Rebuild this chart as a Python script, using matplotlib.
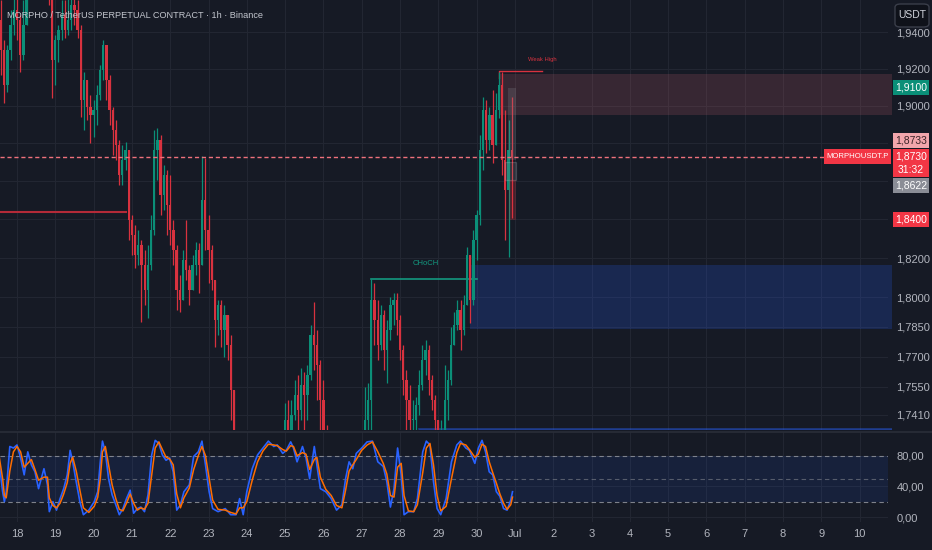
import numpy as np
import matplotlib
matplotlib.use('Agg')
import matplotlib.pyplot as plt
from matplotlib.patches import Rectangle, FancyBboxPatch
from matplotlib.lines import Line2D
from matplotlib.transforms import Bbox, TransformedBbox
from matplotlib.ticker import FixedLocator, FixedFormatter, NullLocator

plt.rcParams['font.family'] = ['Liberation Sans', 'DejaVu Sans']

# ---------------- data ----------------
title = "MORPHO / TetherUS PERPETUAL CONTRACT · 1h · Binance"
day_labels = ['18', '19', '20', '21', '22', '23', '24', '25', '26', '27', '28', '29', '30',
              'Jul', '2', '3', '4', '5', '6', '7', '8', '9', '10']
price_ticks = [1.94, 1.92, 1.90, 1.88, 1.86, 1.84, 1.82, 1.80, 1.785, 1.77, 1.755, 1.741]
price_tick_labels = ['1,9400', '1,9200', '1,9000', '', '', '', '1,8200', '1,8000',
                     '1,7850', '1,7700', '1,7550', '1,7410']

# 2-hour candles, hours from Jun 18 00:00
candle_first_hour = -10
candle_step = 2
first_open = 1.9468
close = [1.9303, 1.9113, 1.9303, 1.9441, 1.9523, 1.9468, 1.9276, 1.9441, 1.9690, 1.9801,
         1.9886, 1.9830, 1.9773, 1.9745, 1.9718, 1.9634, 1.9249, 1.9358, 1.9413, 1.9496,
         1.9413, 1.9468, 1.9551, 1.9523, 1.9413, 1.9032, 1.9140, 1.8995, 1.8952, 1.8978,
         1.9059, 1.9195, 1.9331, 1.9140, 1.8978, 1.8871, 1.8791, 1.8633, 1.8712, 1.8765,
         1.8397, 1.8319, 1.8216, 1.8267, 1.8164, 1.8036, 1.8164, 1.8345, 1.8765, 1.8818,
         1.8528, 1.8633, 1.8475, 1.8345, 1.8242, 1.8036, 1.7985, 1.8190, 1.8139, 1.8036,
         1.8164, 1.8242, 1.8164, 1.8501, 1.8345, 1.8242, 1.8087, 1.7884, 1.7960, 1.7834,
         1.7910, 1.7758, 1.7534, 1.7287, 1.7141, 1.7045, 1.7093, 1.7020, 1.7069, 1.7141,
         1.7093, 1.7045, 1.7117, 1.7166, 1.7117, 1.7190, 1.7238, 1.7214, 1.7287, 1.7385,
         1.7336, 1.7411, 1.7509, 1.7435, 1.7558, 1.7509, 1.7608, 1.7808, 1.7758, 1.7658,
         1.7484, 1.7336, 1.7238, 1.7166, 1.7141, 1.7190, 1.7117, 1.7093, 1.7141, 1.7190,
         1.7166, 1.7214, 1.7238, 1.7263, 1.7385, 1.7484, 1.7985, 1.7884, 1.7758, 1.7910,
         1.7733, 1.7834, 1.7960, 1.7985, 1.7884, 1.7733, 1.7583, 1.7484, 1.7385, 1.7385,
         1.7460, 1.7558, 1.7683, 1.7733, 1.7583, 1.7484, 1.7385, 1.7287, 1.7312, 1.7484,
         1.7583, 1.7758, 1.7859, 1.7935, 1.7834, 1.7960, 1.8216, 1.7985, 1.8293, 1.8423,
         1.8765, 1.8978, 1.8818, 1.8952, 1.8791, 1.8978, 1.9113, 1.8712, 1.8554, 1.8765,
         1.8730]
high = [1.9578, 1.9358, 1.9331, 1.9523, 1.9634, 1.9634, 1.9496, 1.9578, 1.9801, 1.9914,
        1.9970, 1.9942, 1.9886, 1.9858, 1.9830, 1.9773, 1.9634, 1.9386, 1.9441, 1.9578,
        1.9578, 1.9606, 1.9662, 1.9690, 1.9578, 1.9441, 1.9184, 1.9140, 1.9059, 1.9032,
        1.9113, 1.9222, 1.9358, 1.9331, 1.9167, 1.8995, 1.8925, 1.8818, 1.8791, 1.8807,
        1.8765, 1.8423, 1.8371, 1.8345, 1.8293, 1.8242, 1.8267, 1.8423, 1.8871, 1.8882,
        1.8845, 1.8686, 1.8659, 1.8633, 1.8397, 1.8267, 1.8113, 1.8242, 1.8397, 1.8164,
        1.8216, 1.8283, 1.8278, 1.8733, 1.8722, 1.8423, 1.8267, 1.8087, 1.7985, 1.7985,
        1.7960, 1.7884, 1.7808, 1.7484, 1.7287, 1.7190, 1.7166, 1.7141, 1.7166, 1.7238,
        1.7214, 1.7141, 1.7214, 1.7263, 1.7238, 1.7287, 1.7297, 1.7287, 1.7312, 1.7469,
        1.7484, 1.7484, 1.7583, 1.7608, 1.7643, 1.7623, 1.7658, 1.7859, 1.7975, 1.7834,
        1.7683, 1.7583, 1.7360, 1.7287, 1.7238, 1.7263, 1.7214, 1.7190, 1.7238, 1.7277,
        1.7263, 1.7287, 1.7297, 1.7312, 1.7548, 1.7568, 1.8092, 1.8072, 1.7985, 1.7960,
        1.7935, 1.7884, 1.8001, 1.8021, 1.8021, 1.7910, 1.7758, 1.7633, 1.7558, 1.7484,
        1.7499, 1.7633, 1.7758, 1.7783, 1.7758, 1.7608, 1.7509, 1.7360, 1.7385, 1.7658,
        1.7633, 1.7849, 1.7925, 1.7985, 1.7985, 1.8011, 1.8257, 1.8216, 1.8345, 1.8449,
        1.8845, 1.9049, 1.9032, 1.8995, 1.9086, 1.9070, 1.9184, 1.9184, 1.8978, 1.8925,
        1.9049]
low = [1.9167, 1.9016, 1.9075, 1.9249, 1.9386, 1.9358, 1.9184, 1.9249, 1.9523, 1.9662,
       1.9745, 1.9718, 1.9645, 1.9623, 1.9606, 1.9551, 1.9043, 1.9113, 1.9238, 1.9358,
       1.9369, 1.9386, 1.9413, 1.9441, 1.9369, 1.8941, 1.8871, 1.8925, 1.8802, 1.8834,
       1.8898, 1.9032, 1.9140, 1.9032, 1.8898, 1.8738, 1.8712, 1.8580, 1.8580, 1.8659,
       1.8293, 1.8216, 1.8149, 1.8164, 1.7874, 1.7960, 1.7894, 1.8139, 1.8319, 1.8606,
       1.8423, 1.8449, 1.8319, 1.8267, 1.8164, 1.7935, 1.7925, 1.7985, 1.8087, 1.7960,
       1.8036, 1.8113, 1.8021, 1.8164, 1.8242, 1.8072, 1.8036, 1.7748, 1.7808, 1.7748,
       1.7698, 1.7683, 1.7385, 1.7190, 1.7045, 1.6972, 1.6996, 1.6948, 1.6996, 1.7045,
       1.7020, 1.6972, 1.7020, 1.7069, 1.7045, 1.7093, 1.7141, 1.7117, 1.7141, 1.7238,
       1.7263, 1.7287, 1.7385, 1.7336, 1.7385, 1.7336, 1.7385, 1.7583, 1.7633, 1.7484,
       1.7336, 1.7238, 1.7141, 1.7069, 1.7045, 1.7093, 1.7020, 1.6996, 1.7045, 1.7093,
       1.7069, 1.7117, 1.7141, 1.7166, 1.7238, 1.7287, 1.7336, 1.7758, 1.7683, 1.7733,
       1.7633, 1.7568, 1.7783, 1.7859, 1.7808, 1.7683, 1.7509, 1.7336, 1.7326, 1.7287,
       1.7326, 1.7411, 1.7534, 1.7608, 1.7509, 1.7435, 1.7326, 1.7190, 1.7214, 1.7287,
       1.7385, 1.7558, 1.7758, 1.7834, 1.7733, 1.7808, 1.7985, 1.7869, 1.7960, 1.8190,
       1.8371, 1.8659, 1.8749, 1.8765, 1.8696, 1.8791, 1.8936, 1.8633, 1.8293, 1.8206,
       1.8407]

# Stochastic RSI (hours from Jun 18 00:00)
stoch_hours = [-11.25, -9, -7.9, -6.75, -4.5, -2.25, 0, 2.25, 4.5, 6.75,
               9, 11.25, 13.5, 16.9, 19.1, 20.25, 22.5, 24.75, 27, 29.25,
               31.5, 33.3, 34.9, 37.1, 39.4, 41.6, 45, 48.4, 50.6, 52.2,
               53.55, 55.35, 57.4, 59.6, 61.9, 64.1, 66.4, 68.6, 70.9, 73.1,
               75.4, 77.6, 79.9, 82.1, 84.4, 86.6, 88.9, 91.1, 93.4, 95.6,
               97.9, 100.1, 102.4, 104.6, 108, 110.7, 113.6, 115.9, 118.1, 120.4,
               122.6, 126, 130.5, 133.9, 137.25, 139.5, 141.75, 144, 147.4, 150.75,
               154.1, 157.5, 160.9, 163.1, 166.5, 168.75, 171.5, 173.25, 175.5, 178.9,
               181.1, 183.4, 186.3, 187.9, 190.1, 193.5, 196.9, 200.25, 203.6, 205.9,
               208.1, 210.4, 212.6, 216, 219.4, 222.75, 226.1, 229.5, 231.75, 234,
               236.25, 238.5, 240.75, 242.55, 245.25, 248.6, 250.9, 254.25, 256.5, 258.75,
               261, 263.25, 265.5, 268.9, 272.25, 275.6, 277.9, 281.25, 283.5, 286.9,
               289.1, 291.4, 293.6, 295.9, 298.1, 300.4, 302.6, 304.9, 307.1, 309.4,
               310.5]
stoch_k = [72, 33, 20, 33, 92, 90, 94, 77, 55, 85, 68, 59, 37, 63, 42, 7, 20, 9, 24, 37,
           55, 87, 72, 46, 20, 3, 9, 20, 33, 72, 99, 85, 50, 29, 16, 3, 11, 24, 35, 5,
           11, 13, 7, 29, 81, 100, 96, 81, 74, 77, 59, 9, 16, 33, 42, 79, 85, 99, 68, 33,
           11, 7, 11, 3, 3, 24, 3, 33, 63, 81, 90, 99, 92, 94, 83, 87, 98, 90, 72, 92,
           77, 50, 92, 68, 37, 33, 24, 9, 16, 50, 72, 63, 83, 90, 98, 99, 72, 66, 46, 13,
           37, 90, 55, 3, 7, 7, 24, 85, 99, 94, 46, 11, 3, 24, 72, 94, 99, 90, 87, 70,
           90, 100, 85, 59, 55, 33, 27, 11, 9, 22, 33]
stoch_d = [80, 50, 28, 25, 60, 85, 92, 85, 65, 70, 75, 62, 48, 52, 52, 25, 15, 12, 18, 30,
           45, 70, 78, 60, 35, 12, 6, 14, 26, 50, 85, 92, 68, 42, 24, 10, 8, 18, 30, 18,
           9, 12, 10, 18, 55, 90, 98, 88, 78, 76, 68, 30, 12, 25, 38, 62, 80, 92, 80, 50,
           22, 10, 9, 6, 4, 12, 12, 20, 48, 72, 86, 95, 94, 93, 88, 86, 93, 92, 80, 84,
           82, 62, 75, 78, 52, 36, 28, 15, 12, 35, 60, 68, 75, 87, 94, 98, 85, 70, 56, 28,
           26, 65, 70, 28, 8, 7, 16, 58, 90, 96, 68, 28, 8, 14, 50, 84, 96, 94, 88, 78,
           82, 95, 92, 72, 58, 44, 30, 18, 10, 16, 26]
stoch_ticks = [0, 40, 80]
stoch_tick_labels = ['0,00', '40,00', '80,00']

# zones / structure (price levels, hours)
supply_zone = (302, 1.9174, 1.8952)      # start hour, top, bottom
demand_zone = (284, 1.8164, 1.7839)
lower_zone = (252, 1.7341, 1.6900)
choch_level, choch_start, choch_end = 1.8092, 222, 288
weak_high_level, weak_high_start, weak_high_end = 1.9189, 302, 329
old_level, old_level_end = 1.8439, 68
last_price = 1.8730

# ---------------- style ----------------
BG = '#161a25'
GRID = '#222632'
TXT = '#b2b5be'
GREEN = '#0b8f78'
RED = '#d8323f'
W, H = 932, 550
PX_PER_H = 38.3 / 24.0


def fx(px):
    return px / W


def fy(py):
    return 1 - py / H


fig = plt.figure(figsize=(W / 100, H / 100), dpi=100, facecolor=BG)
ax = fig.add_axes([0, fy(430), fx(888), 430 / H])
ax2 = fig.add_axes([0, fy(522), fx(888), 90 / H])
h_left = -17 / PX_PER_H
h_right = (888 - 17) / PX_PER_H
zone_right = (892 - 17) / PX_PER_H
day_ticks = [24 * k for k in range(len(day_labels))]
main_clip = TransformedBbox(Bbox([[0, fy(430)], [fx(892), 1]]), fig.transFigure)

for a in (ax, ax2):
    a.set_facecolor(BG)
    for s in a.spines.values():
        s.set_visible(False)
    a.set_xlim(h_left, h_right)
    a.xaxis.set_major_locator(FixedLocator(day_ticks))
    a.grid(True, color=GRID, lw=0.8, zorder=0)
    a.set_axisbelow(True)
    a.yaxis.tick_right()
    a.tick_params(length=0, colors=TXT, labelsize=8)

# main price axis (log)
ax.set_yscale('log')
ax.set_ylim(1.7336, 1.9578)
ax.yaxis.set_major_locator(FixedLocator(price_ticks))
ax.yaxis.set_major_formatter(FixedFormatter(price_tick_labels))
ax.yaxis.set_minor_locator(NullLocator())
ax.tick_params(axis='y', pad=6)
ax.tick_params(axis='x', labelbottom=False)

# zones
for (h0, top, bot), col, al in [(supply_zone, '#c0606c', 0.2),
                                (demand_zone, '#2962ff', 0.2),
                                (lower_zone, '#2962ff', 0.2)]:
    r = Rectangle((h0, bot), zone_right - h0, top - bot,
                  facecolor=col, alpha=al, edgecolor='none', zorder=1)
    ax.add_patch(r)
    r.set_clip_box(main_clip)
ln, = ax.plot([lower_zone[0], zone_right], [lower_zone[1]] * 2,
              color='#2962ff', alpha=0.45, lw=1.2, zorder=1)
ln.set_clip_box(main_clip)

# candles
close_a = np.array(close)
hours = candle_first_hour + candle_step * np.arange(len(close_a))
opens = np.concatenate([[first_open], close_a[:-1]])
hi = np.maximum(np.array(high), np.maximum(opens, close_a))
lo = np.minimum(np.array(low), np.minimum(opens, close_a))
cols = np.where(close_a >= opens, GREEN, RED)
body_lo = np.minimum(opens, close_a)
body_h = np.maximum(np.abs(close_a - opens), 0.0004)
ax.vlines(hours, lo, hi, colors=cols, lw=0.9, zorder=3)
ax.bar(hours, body_h, bottom=body_lo, width=1.45, color=cols, linewidth=0, zorder=3)

# last candle overlays
ax.add_patch(Rectangle((307.6, 1.8712), 5.0, 1.9097 - 1.8712, facecolor='#8a8d96',
                       alpha=0.22, edgecolor='none', zorder=4))
ax.add_patch(Rectangle((305.8, 1.8606), 6.8, 1.8701 - 1.8606, facecolor='#8a8d96',
                       alpha=0.2, edgecolor='#d6d8de', lw=0.9, zorder=4))
ax.add_patch(Rectangle((308.2, 1.8397), 4.4, 1.8606 - 1.8397, facecolor='#d8323f',
                       alpha=0.25, edgecolor='none', zorder=4))

# structure lines
ax.plot([h_left, old_level_end], [old_level] * 2, color='#b32a38', lw=1.5, zorder=2)
ax.plot([choch_start, choch_end], [choch_level] * 2, color='#139980', lw=1.2, zorder=2)
ax.text((choch_start + choch_end) / 2 + 1, 1.8170, 'CHoCH', color='#139980', fontsize=5.5,
        ha='center', va='center', zorder=5)
ax.plot([weak_high_start, weak_high_start, weak_high_end],
        [1.9150, weak_high_level, weak_high_level], color='#d8323f', lw=1.0, zorder=2)
ax.text(weak_high_end, 1.9254, 'Weak High', color='#d8323f', fontsize=4.2,
        ha='center', va='center', zorder=5)
ax.axhline(last_price, color='#f0717c', lw=1.0, ls=(0, (3, 2)), zorder=5)

# stochastic RSI panel
ax2.set_ylim(-6.5, 110.9)
ax2.yaxis.set_major_locator(FixedLocator(stoch_ticks))
ax2.yaxis.set_major_formatter(FixedFormatter(stoch_tick_labels))
ax2.tick_params(axis='y', pad=6)
ax2.tick_params(axis='x', pad=5)
ax2.set_xticklabels(day_labels)
ax2.axhspan(20, 80, color='#2962ff', alpha=0.1, lw=0, zorder=1)
for lv, al in [(80, 0.9), (50, 0.55), (20, 0.9)]:
    ax2.axhline(lv, color='#8a8d96', alpha=al, lw=0.8, ls=(0, (4, 3)), zorder=2)
ax2.plot(stoch_hours, stoch_k, color='#2962ff', lw=1.2, zorder=3)
ax2.plot(stoch_hours, stoch_d, color='#ff6d00', lw=1.1, zorder=4)

# separator between panes
fig.add_artist(Line2D([0, 1], [fy(431.5)] * 2, color='#2a2e39', lw=1.2))

# title
fig.text(fx(7), fy(15), title, color='#c3c6ce', fontsize=6.6, va='center', ha='left')


# price-scale labels
def label_box(x0, y0, x1, y1, text, fc, tc, fs=7.5, lines=None):
    fig.add_artist(Rectangle((fx(x0), fy(y1)), fx(x1) - fx(x0), fy(y0) - fy(y1),
                             transform=fig.transFigure, facecolor=fc, edgecolor='none',
                             zorder=10))
    if lines is None:
        fig.text(fx((x0 + x1) / 2), fy((y0 + y1) / 2), text, color=tc, fontsize=fs,
                 ha='center', va='center', zorder=11)
    else:
        for t, yy in lines:
            fig.text(fx((x0 + x1) / 2), fy(yy), t, color=tc, fontsize=fs,
                     ha='center', va='center', zorder=11)


label_box(893, 80, 929, 95, '1,9100', '#0a8f78', 'white')
label_box(893, 133, 929, 148, '1,8733', '#f2a6ac', '#3a2226')
label_box(893, 149, 929, 177, '', '#f23645', 'white', lines=[('1,8730', 156.5), ('31:32', 170)])
label_box(824, 149, 891, 164, 'MORPHOUSDT.P', '#f23645', 'white', fs=5.6)
label_box(893, 178, 929, 193, '1,8622', '#8a8d96', 'white')
label_box(893, 212, 929, 227, '1,8400', '#f23645', 'white')

# currency button
fig.add_artist(FancyBboxPatch((fx(895), fy(27)), fx(929) - fx(895), fy(4) - fy(27),
                              boxstyle='round,pad=0,rounding_size=0.006',
                              transform=fig.transFigure, facecolor='#0f121a',
                              edgecolor='#3a3e4a', lw=1.0, zorder=10))
fig.text(fx(912), fy(15.5), 'USDT', color='#d1d4dc', fontsize=7.5, ha='center', va='center',
         zorder=11)

fig.savefig('out.png', dpi=100, facecolor=BG)
